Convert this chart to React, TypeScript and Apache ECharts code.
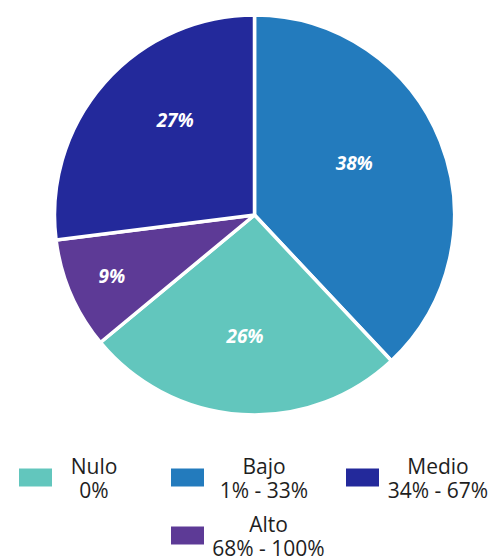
import React, { useEffect, useRef } from "react";
import * as echarts from "echarts";

// Slices in drawing order (clockwise from 12 o'clock)
const sliceNames = ["Bajo", "Nulo", "Alto", "Medio"];
const sliceValues = [38, 26, 9, 27];
const sliceColors = ["#237BBD", "#62C6BD", "#5D3A96", "#23299B"];

// Legend entries (in legend order) with their ranges
const legendNames = ["Nulo", "Bajo", "Medio", "Alto"];
const legendRanges = ["0%", "1% - 33%", "34% - 67%", "68% - 100%"];

// Label offsets (from the default inside position) per slice
const labelOffsets: [number, number][] = [
  [4, -14],
  [-3, 18],
  [-48, 20],
  [-2, -27],
];

// Legend layout: [left, top, text block width]
const legendLayout: [number, number, number][] = [
  [17, 455, 72],
  [169, 455, 108],
  [344, 455, 106],
  [169, 513, 117],
];

export default function App() {
  const ref = useRef<HTMLDivElement>(null);

  useEffect(() => {
    if (!ref.current) return;
    const chart = echarts.init(ref.current, undefined, { renderer: "svg" });

    const legends = legendNames.map((name, i) => {
      const [left, top, w] = legendLayout[i];
      return {
        show: true,
        left,
        top,
        orient: "horizontal",
        padding: 0,
        itemWidth: 35,
        itemHeight: 20,
        icon: "rect",
        selectedMode: false,
        data: [name],
        formatter: (n: string) => `{t|${n}}\n{t|${legendRanges[legendNames.indexOf(n)]}}`,
        textStyle: {
          color: "#1e1e1e",
          fontFamily: "Open Sans",
          fontSize: 21,
          rich: {
            t: {
              width: w,
              align: "center",
              fontFamily: "Open Sans",
              fontSize: 21,
              lineHeight: 24,
              color: "#1e1e1e",
            },
          },
        },
      };
    });

    chart.setOption({
      animation: false,
      backgroundColor: "#ffffff",
      legend: legends,
      series: [
        {
          type: "pie",
          center: [254.5, 215],
          radius: 200,
          startAngle: 90,
          clockwise: true,
          avoidLabelOverlap: false,
          data: sliceNames.map((name, i) => ({
            name,
            value: sliceValues[i],
            itemStyle: { color: sliceColors[i] },
          })),
          itemStyle: { borderColor: "#ffffff", borderWidth: 3.5 },
          label: {
            show: true,
            position: "inside",
            formatter: (p: any) => `${p.value}%`,
            color: "#ffffff",
            fontFamily: "Open Sans",
            fontStyle: "italic",
            fontWeight: "bold",
            fontSize: 19,
          },
          labelLine: { show: false },
          labelLayout: (params: any) => {
            const o = labelOffsets[params.dataIndex];
            return { dx: o[0], dy: o[1] };
          },
          emphasis: { disabled: true },
        },
      ],
    });

    return () => chart.dispose();
  }, []);

  return (
    <div
      ref={ref}
      style={{ position: "fixed", left: 0, top: 0, width: 492, height: 558 }}
    />
  );
}
